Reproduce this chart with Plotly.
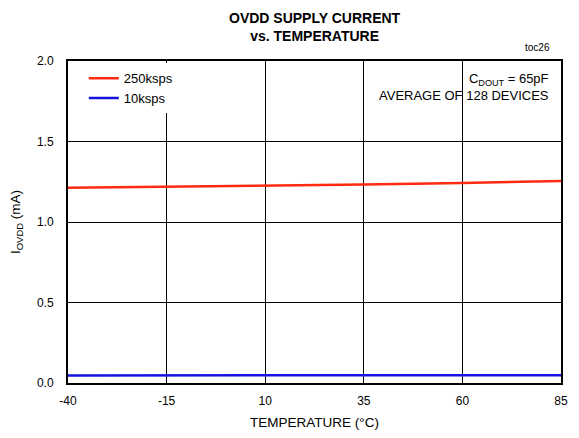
import plotly.graph_objects as go

temps = [-40, -15, 10, 35, 60, 85]
i_250ksps = [1.213, 1.219, 1.226, 1.233, 1.243, 1.255]
i_10ksps = [0.047, 0.047, 0.047, 0.047, 0.048, 0.048]

x_ticks = [-40, -15, 10, 35, 60, 85]
x_labels = ["-40", "-15", "10", "35", "60", "85"]
y_ticks = [0.0, 0.5, 1.0, 1.5, 2.0]

FONT = "Liberation Sans, Arial, sans-serif"

fig = go.Figure()

fig.add_trace(go.Scatter(
    x=temps, y=i_250ksps, mode="lines", name="250ksps",
    line=dict(color="#ff2a10", width=2.5)
))
fig.add_trace(go.Scatter(
    x=temps, y=i_10ksps, mode="lines", name="10ksps",
    line=dict(color="#1414e0", width=2.5)
))

# title, two lines, bold
fig.add_annotation(
    x=0.5, y=1.0, xref="paper", yref="paper", yshift=53,
    text="<b>OVDD SUPPLY CURRENT<br>vs. TEMPERATURE</b>",
    showarrow=False, font=dict(family=FONT, size=14, color="black"),
    xanchor="center", yanchor="top", align="center"
)
fig.add_annotation(
    x=0.982, y=1.0, xref="paper", yref="paper", yshift=6,
    text="toc26", showarrow=False,
    font=dict(family=FONT, size=10, color="black"),
    xanchor="right", yanchor="bottom"
)
fig.add_annotation(
    x=0.98, y=0.975, xref="paper", yref="paper",
    text="C<sub>DOUT</sub> = 65pF<br>AVERAGE OF 128 DEVICES",
    showarrow=False, font=dict(family=FONT, size=13, color="black"),
    xanchor="right", yanchor="top", align="right"
)

fig.update_xaxes(
    range=[-40, 85], tickvals=x_ticks, ticktext=x_labels, ticks="",
    showgrid=True, gridcolor="black", gridwidth=1,
    showline=True, linecolor="black", linewidth=2, mirror=True,
    zeroline=False, automargin=False, ticklabeloverflow="allow",
    ticklabelstandoff=6,
    title=dict(text="TEMPERATURE (°C)", font=dict(family=FONT, size=13.5, color="black"), standoff=18),
    tickfont=dict(family=FONT, size=12, color="black")
)
fig.update_yaxes(
    range=[0, 2], tickvals=y_ticks, tickformat=".1f", ticks="",
    showgrid=True, gridcolor="black", gridwidth=1,
    showline=True, linecolor="black", linewidth=2, mirror=True,
    zeroline=False, automargin=False, ticklabelstandoff=10,
    title=dict(text="I<sub>OVDD</sub> (mA)", font=dict(family=FONT, size=13.5, color="black"), standoff=14),
    tickfont=dict(family=FONT, size=12, color="black")
)

# page body adds an 8px margin, so the figure is sized to fit the window
fig.update_layout(
    width=571, height=422,
    margin=dict(l=60, r=18, t=53, b=47),
    paper_bgcolor="white", plot_bgcolor="white",
    font=dict(family=FONT, color="black"),
    legend=dict(
        x=0.032, y=0.993, xanchor="left", yanchor="top",
        bgcolor="white", font=dict(family=FONT, size=13, color="black"),
        tracegroupgap=0, itemwidth=30
    )
)

fig.write_html("out.html")
